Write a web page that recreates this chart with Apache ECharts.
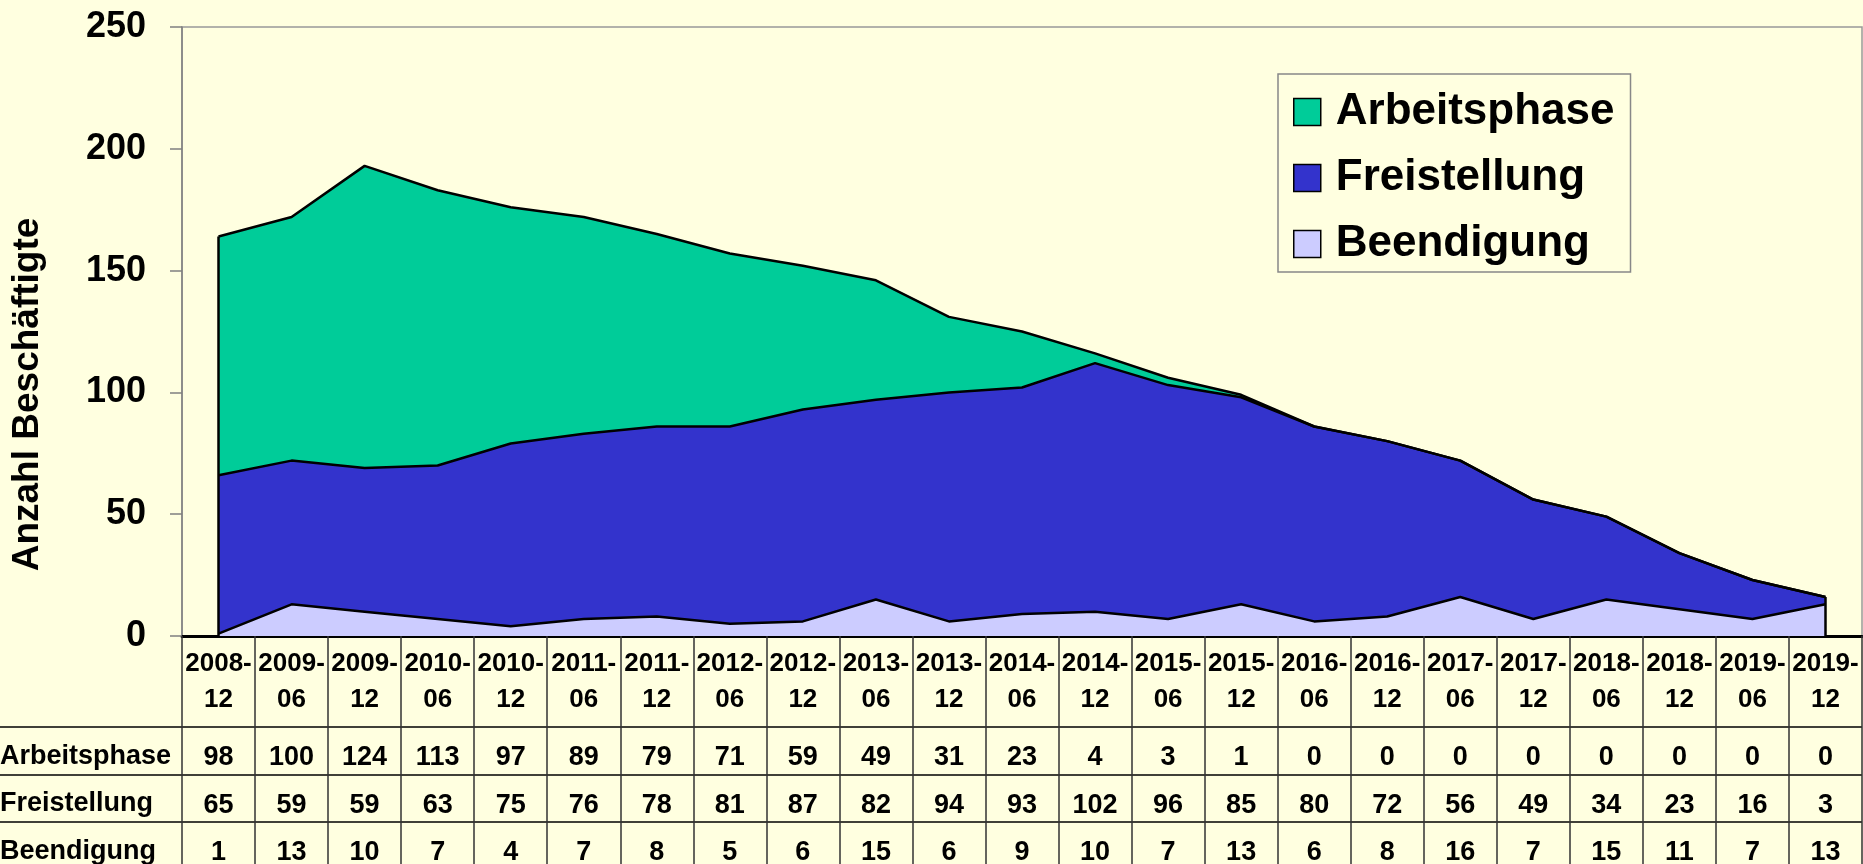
<!DOCTYPE html>
<html>
<head>
<meta charset="utf-8">
<script src="https://cdn.jsdelivr.net/npm/echarts@6/dist/echarts.min.js"></script>
<style>
  html, body { margin: 0; padding: 0; background: #FFFFE0; }
  #chart { width: 1863px; height: 864px; }
</style>
</head>
<body>
<div id="chart"></div>
<script>
// Zeitpunkte (Jahr-Monat)
const categories = [
  "2008-12", "2009-06", "2009-12", "2010-06", "2010-12", "2011-06",
  "2011-12", "2012-06", "2012-12", "2013-06", "2013-12", "2014-06",
  "2014-12", "2015-06", "2015-12", "2016-06", "2016-12", "2017-06",
  "2017-12", "2018-06", "2018-12", "2019-06", "2019-12"
];
const arbeitsphase = [98, 100, 124, 113, 97, 89, 79, 71, 59, 49, 31, 23, 4, 3, 1, 0, 0, 0, 0, 0, 0, 0, 0];
const freistellung = [65, 59, 59, 63, 75, 76, 78, 81, 87, 82, 94, 93, 102, 96, 85, 80, 72, 56, 49, 34, 23, 16, 3];
const beendigung = [1, 13, 10, 7, 4, 7, 8, 5, 6, 15, 6, 9, 10, 7, 13, 6, 8, 16, 7, 15, 11, 7, 13];
const rowNames = ["Arbeitsphase", "Freistellung", "Beendigung"];
const yTicks = [0, 50, 100, 150, 200, 250];

const font = "'Liberation Sans', Arial, sans-serif";
const colors = { Arbeitsphase: "#00CC99", Freistellung: "#3333CC", Beendigung: "#CCCCFF" };

const lastIdx = categories.length - 1;
const total = (i) => arbeitsphase[i] + freistellung[i] + beendigung[i];

// eine Tabellenzeile als zusätzliche x-Achse unter dem Diagramm
function tableRow(values, offset) {
  return {
    type: "category",
    gridIndex: 0,
    position: "bottom",
    offset: offset,
    data: categories,
    axisLine: { show: false },
    axisTick: { show: false },
    axisLabel: {
      interval: 0,
      margin: 0,
      verticalAlign: "middle",
      color: "#000",
      fontFamily: font,
      fontWeight: "bold",
      fontSize: 27,
      formatter: (v, i) => String(values[i]),
    },
  };
}

function areaSeries(name, data) {
  return {
    name: name,
    type: "line",
    stack: "total",
    data: data,
    symbol: "none",
    lineStyle: { color: "#000", width: 2.5 },
    itemStyle: { color: colors[name] },
    areaStyle: { color: colors[name], opacity: 1 },
  };
}

const topSeries = areaSeries("Arbeitsphase", arbeitsphase);
topSeries.markLine = {
  silent: true,
  symbol: "none",
  label: { show: false },
  lineStyle: { color: "#000", width: 2.5, type: "solid" },
  data: [
    [{ coord: [0, 0] }, { coord: [0, total(0)] }],
    [{ coord: [lastIdx, 0] }, { coord: [lastIdx, total(lastIdx)] }],
  ],
};

const option = {
  backgroundColor: "#FFFFE0",
  animation: false,
  textStyle: { fontFamily: font },
  grid: [
    {
      left: 182, right: 1, top: 27, bottom: 228,
      containLabel: false, outerBoundsMode: "none",
      show: true, borderColor: "#999", borderWidth: 1.5,
    },
    { left: 0, right: 1, top: 727, height: 142, containLabel: false, outerBoundsMode: "none" },
  ],
  legend: {
    data: ["Arbeitsphase", "Freistellung", "Beendigung"],
    orient: "vertical",
    left: 1278,
    top: 74,
    padding: [14, 16, 4, 15],
    itemGap: 18,
    itemWidth: 27,
    itemHeight: 27,
    icon: "rect",
    borderColor: "#888",
    borderWidth: 1.5,
    itemStyle: { borderColor: "#000", borderWidth: 1.5 },
    textStyle: {
      color: "#000",
      fontFamily: font,
      fontWeight: "bold",
      fontSize: 44,
      lineHeight: 48,
      padding: [0, 0, 0, 10],
    },
  },
  xAxis: [
    {
      type: "category",
      gridIndex: 0,
      data: categories,
      boundaryGap: true,
      axisLine: { lineStyle: { color: "#000", width: 3 } },
      axisTick: { show: true, length: 233, lineStyle: { color: "#333", width: 1.5 } },
      axisLabel: {
        interval: 0,
        margin: 10,
        color: "#000",
        fontFamily: font,
        fontWeight: "bold",
        fontSize: 26,
        lineHeight: 36,
        formatter: (v) => v.replace("-", "-\n"),
      },
    },
    tableRow(arbeitsphase, 122),
    tableRow(freistellung, 170),
    tableRow(beendigung, 217),
    { type: "value", gridIndex: 1, show: false },
  ],
  yAxis: [
    {
      type: "value",
      gridIndex: 0,
      min: yTicks[0],
      max: yTicks[yTicks.length - 1],
      interval: 50,
      name: "Anzahl Beschäftigte",
      nameLocation: "middle",
      nameGap: 136,
      nameTextStyle: {
        color: "#000",
        fontFamily: font,
        fontWeight: "bold",
        fontSize: 37,
        padding: [0, 126, 0, 0],
      },
      axisLine: { show: true, lineStyle: { color: "#808080", width: 1.5 } },
      axisTick: { show: true, length: 12, lineStyle: { color: "#808080", width: 1.5 } },
      splitLine: { show: false },
      axisLabel: {
        margin: 36,
        color: "#000",
        fontFamily: font,
        fontWeight: "bold",
        fontSize: 36,
      },
    },
    {
      type: "category",
      gridIndex: 1,
      data: rowNames,
      inverse: true,
      axisLine: { show: false },
      axisTick: { show: false },
      splitLine: { show: true, lineStyle: { color: "#000", width: 1.5 } },
      axisLabel: {
        inside: true,
        margin: 0,
        formatter: (v) => "{r|" + v + "}",
        rich: {
          r: {
            color: "#000",
            fontFamily: font,
            fontWeight: "bold",
            fontSize: 27,
            padding: [12, 0, 0, 0],
          },
        },
      },
    },
  ],
  series: [
    areaSeries("Beendigung", beendigung),
    areaSeries("Freistellung", freistellung),
    topSeries,
  ],
};

const myChart = echarts.init(document.getElementById("chart"));
myChart.setOption(option);
window.onresize = myChart.resize;
</script>
</body>
</html>
